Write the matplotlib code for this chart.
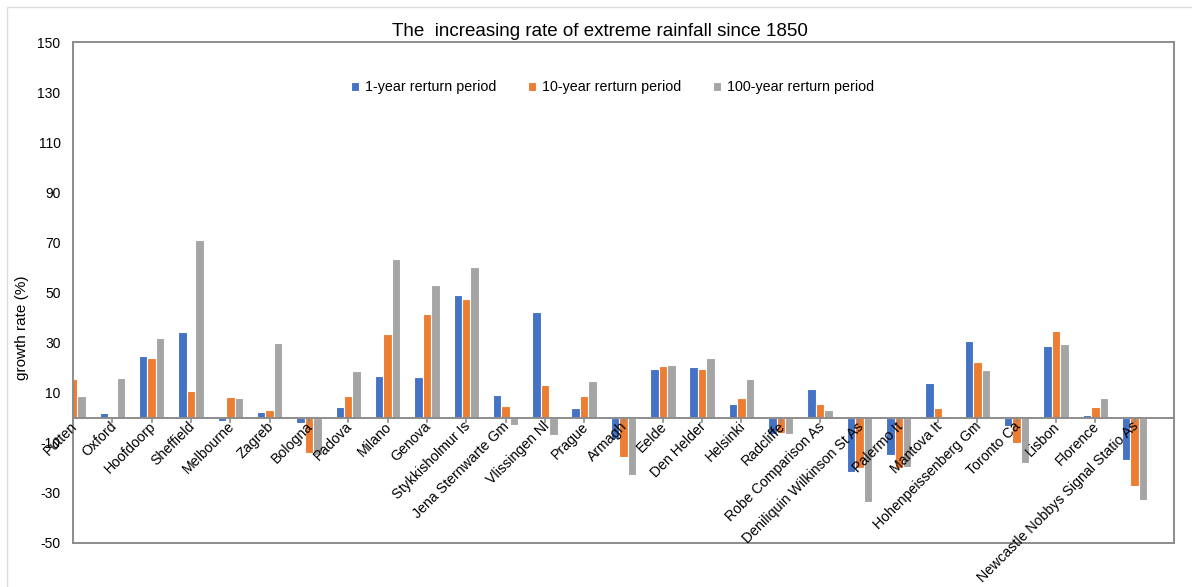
import numpy as np
import matplotlib.pyplot as plt
from matplotlib.patches import Rectangle

plt.rcParams['font.family'] = ['Liberation Sans', 'DejaVu Sans']
plt.rcParams['axes.unicode_minus'] = False

stations = ['Putten', 'Oxford', 'Hoofdoorp', 'Sheffield', 'Melbourne', 'Zagreb',
            'Bologna', 'Padova', 'Milano', 'Genova', 'Stykkisholmur Is',
            'Jena Sternwarte Gm', 'Vlissingen Nl', 'Prague', 'Armagh', 'Eelde',
            'Den Helder', 'Helsinki', 'Radcliffe', 'Robe Comparison As',
            'Deniliquin Wilkinson St As', 'Palermo It', 'Mantova It',
            'Hohenpeissenberg Gm', 'Toronto Ca', 'Lisbon', 'Florence',
            'Newcastle Nobbys Signal Statio As']

rp_1 = [0, 1.7, 24.6, 34.1, -1.2, 2.3, -2.1, 4.4, 16.5, 16.1, 49.0, 9.1, 42.2, 3.7,
        -8.4, 19.6, 20.1, 5.5, -6.5, 11.3, -21.6, -14.9, 13.7, 30.6, -3.2, 28.6, 1.2,
        -16.9]
rp_10 = [15.6, 0, 23.8, 10.8, 8.3, 3.2, -14.0, 8.5, 33.3, 41.4, 47.4, 4.5, 13.1, 8.8,
         -15.7, 20.6, 19.6, 7.7, -6.0, 5.5, -20.0, -20.0, 3.7, 22.2, -10.0, 34.6, 4.1,
         -27.3]
rp_100 = [8.5, 15.8, 31.7, 70.9, 8.0, 29.8, -15.0, 18.5, 63.5, 53.0, 60.0, -2.7, -7.0,
          14.8, -23.0, 20.9, 23.8, 15.3, -6.5, 2.9, -33.7, -19.5, 0.8, 19.0, -18.0,
          29.3, 7.7, -32.9]

series = [('1-year rerturn period', rp_1, '#4472C4'),
          ('10-year rerturn period', rp_10, '#ED7D31'),
          ('100-year rerturn period', rp_100, '#A5A5A5')]

fig = plt.figure(figsize=(11.92, 5.87), dpi=100)
ax = fig.add_axes([73 / 1192, 44 / 587, 1101 / 1192, 501 / 587])

x = np.arange(len(stations))
step = 0.215
for i, (name, vals, col) in enumerate(series):
    ax.bar(x + (i - 1) * step, vals, width=step, color=col, edgecolor='white',
           linewidth=0.8, label=name, zorder=2)

ax.set_xlim(0, len(stations))
ax.set_ylim(-50, 150)
ax.set_yticks(range(-50, 151, 20))
ax.tick_params(axis='y', length=0, labelsize=10, pad=9)

# category axis sits on the zero line
ax.axhline(0, color='#8c8c8c', lw=1.4, zorder=3)
ax.set_xticks(x)
ax.set_xticklabels([])
for xi in x:
    ax.plot([xi, xi], [0, -1.6], color='#8c8c8c', lw=1.2, zorder=3, clip_on=False)
    ax.text(xi + 0.05, -2.6, stations[xi], rotation=45, ha='right', va='center',
            rotation_mode='anchor', fontsize=10.2)
ax.tick_params(axis='x', length=0)

for s in ax.spines.values():
    s.set_color('#8c8c8c')
    s.set_linewidth(1.4)

ax.legend(loc='center', bbox_to_anchor=(0.49, 0.91), ncol=3, frameon=False,
          fontsize=10.3, handlelength=0.6, handleheight=0.6, handletextpad=0.4,
          columnspacing=2.2)

fig.text(600 / 1192, 1 - 32 / 587, 'The  increasing rate of extreme rainfall since 1850',
         ha='center', va='center', fontsize=13.5)
fig.text(22 / 1192, 1 - 328 / 587, 'growth rate (%)', rotation=90, ha='center',
         va='center', fontsize=11)

# light chart border
fig.patches.append(Rectangle((7 / 1192, -0.1), 1.2, 1.1 - 7 / 587,
                             transform=fig.transFigure, fill=False,
                             edgecolor='#dedede', lw=1))

fig.savefig('out.png', dpi=100)
